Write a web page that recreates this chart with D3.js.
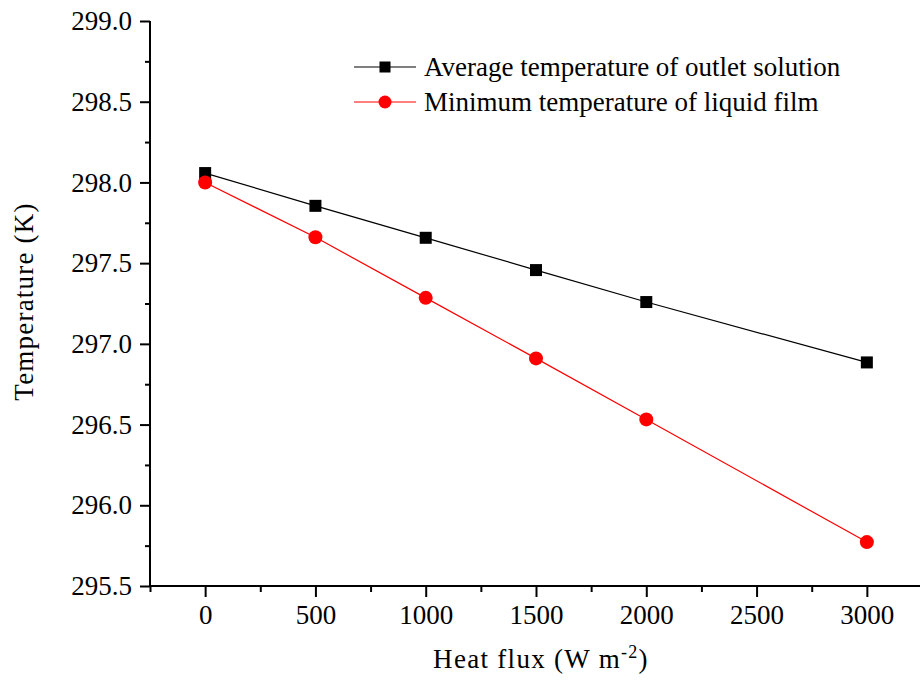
<!DOCTYPE html>
<html>
<head>
<meta charset="utf-8">
<script src="https://cdn.jsdelivr.net/npm/d3@7"></script>
<style>
  html, body { margin: 0; padding: 0; background: #fff; }
  svg { display: block; }
  svg text { font-family: 'Liberation Serif', 'Times New Roman', Times, 'DejaVu Serif', serif; }
</style>
</head>
<body>
<svg id="chart" width="920" height="682"></svg>
<script>
const heatFlux = [0, 500, 1000, 1500, 2000, 3000];
const avgOutlet = [298.058, 297.855, 297.657, 297.457, 297.259, 296.885];
const minFilm = [298.0, 297.66, 297.285, 296.91, 296.532, 295.772];
const seriesNames = ["Average temperature of outlet solution", "Minimum temperature of liquid film"];
const xTicks = [0, 500, 1000, 1500, 2000, 2500, 3000];
const xMinorTicks = [-250, 250, 750, 1250, 1750, 2250, 2750];
const yTicks = [295.5, 296.0, 296.5, 297.0, 297.5, 298.0, 298.5, 299.0];
const yMinorTicks = [295.75, 296.25, 296.75, 297.25, 297.75, 298.25, 298.75];

const FONT = "'Liberation Serif', 'Times New Roman', Times, 'DejaVu Serif', serif";
const svg = d3.select("#chart").attr("font-family", FONT);
const FS = 27;

const x = d3.scaleLinear().domain([-250, 3250]).range([150, 922]);
const y = d3.scaleLinear().domain([295.5, 299.0]).range([586, 21]);

// minor ticks
const gxm = svg.append("g").attr("transform", `translate(0,${y(295.5)})`)
  .call(d3.axisBottom(x).tickValues(xMinorTicks).tickSize(6).tickFormat(""));
const gym = svg.append("g").attr("transform", `translate(${x(-250)},0)`)
  .call(d3.axisLeft(y).tickValues(yMinorTicks).tickSize(5).tickFormat(""));

// major axes
const gx = svg.append("g").attr("transform", `translate(0,${y(295.5)})`)
  .call(d3.axisBottom(x).tickValues(xTicks).tickSize(11).tickPadding(8).tickFormat(d3.format("d")));
const gy = svg.append("g").attr("transform", `translate(${x(-250)},0)`)
  .call(d3.axisLeft(y).tickValues(yTicks).tickSize(10).tickPadding(8).tickFormat(d3.format(".1f")));

[gxm, gym, gx, gy].forEach(g => {
  g.attr("font-family", FONT).attr("font-size", FS);
  g.select(".domain").attr("stroke", "#000").attr("stroke-width", 2);
  g.selectAll(".tick line").attr("stroke", "#000").attr("stroke-width", 2);
  g.selectAll(".tick text").attr("fill", "#000").attr("font-family", FONT).attr("font-size", FS);
});
gxm.select(".domain").remove();
gym.select(".domain").remove();
gx.select(".domain").attr("d", `M${x(-250)},0H${x(3250)}`);
gy.select(".domain").attr("d", `M0,${y(295.5)}V${y(299.0)}`);

// axis titles
svg.append("text")
  .attr("x", 541).attr("y", 668)
  .attr("text-anchor", "middle")
  .attr("font-family", FONT).attr("font-size", FS)
  .attr("letter-spacing", 1.3)
  .html('Heat flux (W m<tspan dy="-10" font-size="18">-2</tspan><tspan dy="10">)</tspan>');

svg.append("text")
  .attr("transform", `translate(33,${(y(295.5) + y(299)) / 2 - 2}) rotate(-90)`)
  .attr("text-anchor", "middle")
  .attr("font-family", FONT).attr("font-size", FS)
  .attr("letter-spacing", 1.2)
  .text("Temperature (K)");

// lines
const line = d3.line().x(d => x(d[0])).y(d => y(d[1]));
const avgData = heatFlux.map((v, i) => [v, avgOutlet[i]]);
const minData = heatFlux.map((v, i) => [v, minFilm[i]]);

svg.append("path").datum(avgData).attr("d", line)
  .attr("fill", "none").attr("stroke", "#000").attr("stroke-width", 1.2);
svg.append("path").datum(minData).attr("d", line)
  .attr("fill", "none").attr("stroke", "#ff0000").attr("stroke-width", 1.2);

const sq = 12;
svg.append("g").selectAll("rect").data(avgData).join("rect")
  .attr("x", d => x(d[0]) - sq / 2).attr("y", d => y(d[1]) - sq / 2)
  .attr("width", sq).attr("height", sq).attr("fill", "#000");
svg.append("g").selectAll("circle").data(minData).join("circle")
  .attr("cx", d => x(d[0])).attr("cy", d => y(d[1])).attr("r", 7).attr("fill", "#ff0000");

// legend
const lg = svg.append("g");
const legendItems = [
  { name: seriesNames[0], color: "#000", shape: "square", yy: 67 },
  { name: seriesNames[1], color: "#ff0000", shape: "circle", yy: 102 }
];
legendItems.forEach(it => {
  lg.append("line").attr("x1", 354).attr("x2", 416).attr("y1", it.yy).attr("y2", it.yy)
    .attr("stroke", it.color).attr("stroke-width", 1.2);
  if (it.shape === "square") {
    lg.append("rect").attr("x", 385 - 5.5).attr("y", it.yy - 5.5).attr("width", 11).attr("height", 11).attr("fill", it.color);
  } else {
    lg.append("circle").attr("cx", 385).attr("cy", it.yy).attr("r", 6.5).attr("fill", it.color);
  }
  lg.append("text").attr("x", 424).attr("y", it.yy + 8.5)
    .attr("font-family", FONT).attr("font-size", FS).attr("fill", "#000").text(it.name);
});
</script>
</body>
</html>
